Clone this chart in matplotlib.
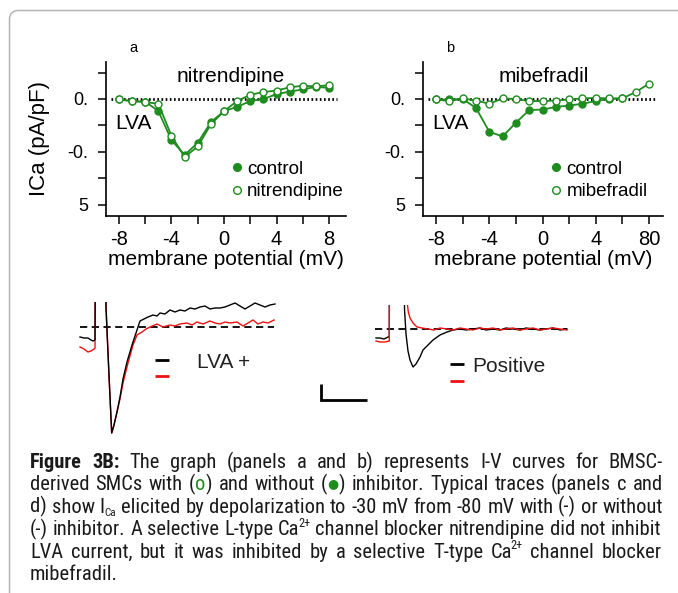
import os
import matplotlib
matplotlib.use("Agg")
import matplotlib.pyplot as plt
import numpy as np
from matplotlib import font_manager as fm
from matplotlib.font_manager import FontProperties
from matplotlib.patches import FancyBboxPatch
from matplotlib.lines import Line2D
from matplotlib.transforms import IdentityTransform

plt.rcParams['font.family'] = ['Liberation Sans', 'DejaVu Sans']

# ---------------- data ----------------
voltage = [-80, -70, -60, -50, -40, -30, -20, -10, 0, 10, 20, 30, 40, 50, 60, 70, 80]
ctrl_a = [-0.01, -0.04, -0.05, -0.23, -0.78, -1.06, -0.83, -0.44, -0.23, -0.15, -0.04, 0.0, 0.09, 0.14, 0.18, 0.23, 0.21]
nitr_a = [-0.01, -0.04, -0.06, -0.09, -0.70, -1.10, -0.90, -0.48, -0.23, -0.04, 0.08, 0.13, 0.16, 0.22, 0.25, 0.24, 0.26]
ctrl_b = [-0.01, -0.01, 0.0, -0.17, -0.62, -0.71, -0.45, -0.21, -0.20, -0.15, -0.125, -0.09, -0.04, 0.0, 0.01, np.nan, np.nan]
mibe_b = [-0.01, -0.04, 0.01, -0.03, -0.09, 0.01, 0.0, -0.04, -0.04, -0.03, -0.01, 0.01, 0.02, 0.01, 0.01, 0.13, 0.29]

xtick_vals = [-80, -60, -40, -20, 0, 20, 40, 60, 80]
xtick_labels_a = ['-8', '', '-4', '', '0', '', '4', '', '8']
xtick_labels_b = ['-8', '', '-4', '', '0', '', '4', '', '80']
ytick_vals = [0.5, 0.0, -0.5, -1.0, -1.5, -2.0]
ytick_labels = ['', '0.', '', '-0.', '', '5']

# typical traces (time, current), arbitrary units
t_black_c = [0, 4, 8, 11, 13, 15, 16, 25, 26, 28, 30, 31.7, 34, 37, 40, 43, 47, 52, 57, 60, 64, 68, 73, 77, 80,
             85, 90, 95, 100, 105, 110, 115, 120, 125, 130, 135, 140, 145, 150, 155, 160, 165, 170, 175, 180,
             185, 190, 195]
i_black_c = [-10, -11, -11, -13, -14, -13, 200, 200, 20, -26, -70, -106, -98, -85, -70, -52, -35, -18, -3, 6, 8,
             10, 12, 11, 14, 13, 17, 15, 17, 16, 19, 18, 20, 21, 18, 19, 19, 20, 22, 24, 21, 18, 21, 24, 22, 20,
             22, 23]
t_red_c = [0, 4, 8, 11, 14, 15, 15.5, 25, 26, 28, 30, 31.7, 34, 37, 40, 43, 48, 53, 57, 62, 66, 70, 77, 83, 90,
           95, 100, 107, 112, 117, 123, 130, 135, 140, 145, 150, 157, 163, 168, 173, 178, 183, 188, 194]
i_red_c = [-20, -22, -25, -24, -22, -21, 200, 200, 20, -26, -70, -106, -98, -85, -72, -56, -36, -18, -8, -5, -2,
           0, 3, 0, 2, 1, 3, 4, 2, 5, 3, 6, 4, 3, 5, 4, 5, 1, 4, 7, 3, 5, 4, 7]

t_black_d = [0, 4, 8, 12, 13.3, 13.6, 28, 28.5, 30, 32, 34, 37, 40, 44, 47, 51, 57, 64, 71, 77, 84, 90, 97, 104,
             110, 117, 124, 130, 137, 144, 150, 157, 164, 170, 177, 184, 191]
i_black_d = [-9, -9, -10, -8, -8, 200, 200, 20, -5, -22, -31, -38, -35, -28, -21, -17, -11, -6, -3, -1, 0, -1, 0,
             1, -1, 0, -1, 1, 0, -1, 1, 0, -1, 0, 1, -1, 0]
t_red_d = [0, 4, 9, 13.3, 13.6, 31, 31.5, 32.3, 34, 37, 41, 46, 52, 58, 64, 71, 77, 84, 90, 97, 104, 110, 117,
           124, 130, 137, 144, 150, 157, 164, 170, 177, 184, 191]
i_red_d = [-12, -13, -13, -12, 200, 200, 24, 17, 11, 6, 2, 1, 0, -1, 1, 0, -1, 1, 0, -1, 1, 0, 1, -1, 0, 1, -1,
           0, 1, -1, 0, 1, 0, -1]

GREEN = '#1e8c1e'
RED = '#ee1111'
W, H = 678, 593

fig = plt.figure(figsize=(W / 100, H / 100), dpi=100)


def box(l, r, t, b):
    return [l / W, 1 - b / H, (r - l) / W, (b - t) / H]


# ---------------- frame ----------------
frame = FancyBboxPatch((9.5, -40), 720, (H - 10.5) + 40, boxstyle="round,pad=0,rounding_size=9",
                       transform=IdentityTransform(), fill=False, edgecolor='#b4b4b4', linewidth=1.1)
fig.add_artist(frame)


def iv_panel(ax, xlim, ctrl, drug, drug_name, xt_labels, xlabel, title, title_x, leg_x):
    ax.plot([-86, 86], [0, 0], color='black', linestyle=(0, (0.6, 0.9)), linewidth=2.0, zorder=1,
            clip_on=False)
    ax.plot(voltage, ctrl, color=GREEN, lw=1.3, marker='o', ms=5.0, mfc=GREEN, mec=GREEN, mew=1.0,
            zorder=3, clip_on=False)
    ax.plot(voltage, drug, color=GREEN, lw=1.3, marker='o', ms=5.0, mfc='white', mec=GREEN, mew=1.0,
            zorder=4, clip_on=False)
    ax.set_xlim(*xlim)
    ax.set_ylim(-2.216, 0.70)
    ax.set_xticks(xtick_vals, labels=xt_labels)
    ax.set_yticks(ytick_vals, labels=ytick_labels)
    for s in ['top', 'right']:
        ax.spines[s].set_visible(False)
    for s in ['left', 'bottom']:
        ax.spines[s].set_linewidth(1.2)
    ax.tick_params(axis='both', direction='out', length=5.8, width=1.1, color='black')
    ax.tick_params(axis='y', labelsize=13, pad=7)
    ax.tick_params(axis='x', labelsize=14.5, pad=4)
    ax.set_xlabel(xlabel, fontsize=15, labelpad=1)
    ax.text(title_x, 0.870, title, transform=ax.transAxes, ha='center', va='baseline', fontsize=15)
    ax.text(0.04, 0.565, 'LVA', transform=ax.transAxes, ha='left', va='baseline', fontsize=15)
    handles = [Line2D([], [], ls='none', marker='o', ms=5.5, mfc=GREEN, mec=GREEN, mew=1.0),
               Line2D([], [], ls='none', marker='o', ms=5.5, mfc='white', mec=GREEN, mew=1.0)]
    ax.legend(handles, ['control', drug_name], loc='center left', bbox_to_anchor=(leg_x, 0.2305),
              frameon=False, fontsize=13.5, handlelength=1.0, handletextpad=0.07, labelspacing=0.3,
              borderpad=0, borderaxespad=0)


axa = fig.add_axes(box(106, 346, 62, 216))
iv_panel(axa, (-89.9, 92.95), ctrl_a, nitr_a, 'nitrendipine', xtick_labels_a,
         'membrane potential (mV)', 'nitrendipine', 0.52, 0.505)
axa.set_ylabel('ICa (pA/pF)', fontsize=16)
axa.yaxis.set_label_coords(-0.233, 0.5)

axb = fig.add_axes(box(423, 663, 62, 216))
iv_panel(axb, (-89.8, 90.5), ctrl_b, mibe_b, 'mibefradil', xtick_labels_b,
         'mebrane potential (mV)', 'mibefradil', 0.504, 0.515)

fig.text(133 / W, 1 - 52 / H, 'a', ha='center', va='baseline', fontsize=10.5)
fig.text(450 / W, 1 - 52 / H, 'b', ha='center', va='baseline', fontsize=10.5)

# ---------------- traces ----------------
axc = fig.add_axes(box(78, 285, 302, 440))
axc.set_xlim(-2, 205)
axc.set_ylim(-113, 25)
axc.axis('off')
axc.plot([0, 194], [0, 0], color='black', lw=1.3, linestyle=(0, (4, 2.5)))
axc.plot(t_red_c, i_red_c, color=RED, lw=1.0)
axc.plot(t_black_c, i_black_c, color='black', lw=1.0)
axc.plot([75, 89], [-33, -33], color='black', lw=2.0, solid_capstyle='butt')
axc.plot([75, 89], [-49, -49], color=RED, lw=2.0, solid_capstyle='butt')
axc.text(117, -36, 'LVA +', ha='left', va='center', fontsize=15, color='#222222')

axd = fig.add_axes(box(300, 580, 305, 410))
axd.set_xlim(-76, 204)
axd.set_ylim(-81, 24)
axd.axis('off')
axd.plot([-1, 191], [0, 0], color='black', lw=1.3, linestyle=(0, (4, 2.5)))
axd.plot(t_black_d, i_black_d, color='black', lw=1.0)
axd.plot(t_red_d, i_red_d, color=RED, lw=1.0)
axd.plot([74, 88], [-35, -35], color='black', lw=2.0, solid_capstyle='butt')
axd.plot([74, 88], [-52, -52], color=RED, lw=2.0, solid_capstyle='butt')
axd.text(96, -38, 'Positive', ha='left', va='center', fontsize=15, color='#222222')
axd.plot([-55, -55, -9], [-55, -71, -71], color='black', lw=2.0, solid_joinstyle='miter',
         solid_capstyle='butt', clip_on=False)

# ---------------- caption ----------------
files = {os.path.basename(f.fname): f.fname for f in fm.fontManager.ttflist}
for f in fm.findSystemFonts():
    files.setdefault(os.path.basename(f), f)
candidates = [
    ('LiberationSansNarrow-Regular.ttf', 'LiberationSansNarrow-Bold.ttf'),
    ('RobotoCondensed-Regular.ttf', 'RobotoCondensed-Bold.ttf'),
    ('NotoSans-Condensed.ttf', 'NotoSans-CondensedBold.ttf'),
    ('DejaVuSansCondensed.ttf', 'DejaVuSansCondensed-Bold.ttf'),
    ('LiberationSans-Regular.ttf', 'LiberationSans-Bold.ttf'),
]
reg_file, bold_file = None, None
for r, b in candidates:
    if r in files:
        reg_file = files[r]
        bold_file = files.get(b, files[r])
        break

N, B, G, GB, SUB, SUP = 'n', 'b', 'g', 'gb', 'sub', 'sup'


def cap_props(st, size):
    if st == GB:
        return FontProperties(family='DejaVu Sans', size=size)
    bold = st == B
    if reg_file is None:
        return FontProperties(family=['Liberation Sans', 'DejaVu Sans'],
                              weight='bold' if bold else 'normal', size=size)
    return FontProperties(fname=bold_file if bold else reg_file, size=size)


def words(s):
    return [[(w, N)] for w in s.split()]


caption = [
    [[('Figure', B)], [('3B:', B)]] + words('The graph (panels a and b) represents I-V curves for BMSC-'),
    words('derived SMCs with') + [[('(', N), ('o', G), (')', N)]] + words('and without') +
    [[('(', N), ('\u25cf', GB), (')', N)]] + words('inhibitor. Typical traces (panels c and'),
    words('d) show') + [[('I', N), ('Ca', SUB)]] +
    words('elicited by depolarization to -30 mV from -80 mV with (-) or without'),
    words('(-) inhibitor. A selective L-type') + [[('Ca', N), ('2+', SUP)]] +
    words('channel blocker nitrendipine did not inhibit'),
    words('LVA current, but it was inhibited by a selective T-type') + [[('Ca', N), ('2+', SUP)]] +
    words('channel blocker'),
    words('mibefradil.'),
]
baselines = [468, 490.4, 512.8, 535.2, 557.6, 580]
X0, X1 = 30, 663

renderer = fig.canvas.get_renderer()
SCALE = {SUB: 0.55, SUP: 0.6, GB: 0.62}


def measure(size):
    out = []
    for line in caption:
        mline = []
        for w in line:
            segs = []
            for txt, st in w:
                fs = size * SCALE.get(st, 1.0)
                t = fig.text(0, 0, txt, fontproperties=cap_props(st, fs),
                             color=GREEN if st in (G, GB) else '#1a1a1a',
                             ha='left', va='baseline', transform=IdentityTransform())
                segs.append((t, t.get_window_extent(renderer).width, st))
            mline.append(segs)
        out.append(mline)
    return out


def remove_all(mm):
    for mline in mm:
        for segs in mline:
            for t, _, _ in segs:
                t.remove()


# choose size so the densest line just fits with normal word spacing
base = 10.0
m = measure(base)
space_base = 0.26 * base * 100 / 72
need = max(sum(wd for segs in ml for _, wd, _ in segs) + (len(ml) - 1) * space_base
           for ml in m[:-1])
CAP = base * (X1 - X0) / need
remove_all(m)
m = measure(CAP)
em = CAP * 100 / 72

for li, (mline, yb) in enumerate(zip(m, baselines)):
    total = sum(wd for segs in mline for _, wd, _ in segs)
    justify = li < len(m) - 1
    gap = (X1 - X0 - total) / (len(mline) - 1) if justify and len(mline) > 1 else 0.26 * em
    x = X0
    for segs in mline:
        for t, wd, st in segs:
            dx, dy = 0, 0
            if st == SUB:
                dy = -0.15 * em
            elif st == SUP:
                dy, dx = 0.4 * em, -1.5
            elif st == GB:
                dy = 0.17 * em
            t.set_position((x + dx, H - yb + dy))
            x += wd + dx
        x += gap

fig.savefig('out.png', dpi=100)
